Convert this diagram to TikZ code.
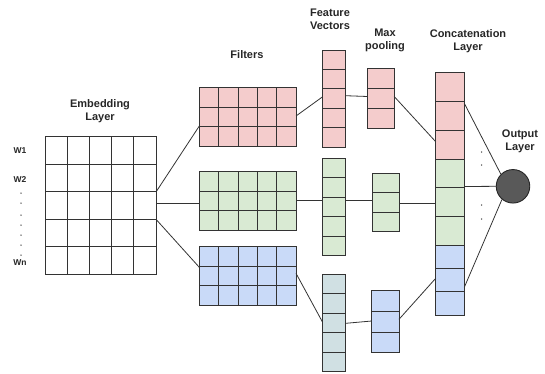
\documentclass[tikz,border=0pt]{standalone}
\usepackage{fontspec}
\setmainfont{Liberation Sans}
\usetikzlibrary{calc}
\definecolor{pinkc}{HTML}{F4CCCC}
\definecolor{greenc}{HTML}{D9EAD3}
\definecolor{bluec}{HTML}{C9DAF8}
\definecolor{tealc}{HTML}{D0E0E3}
\definecolor{linec}{HTML}{333333}
\definecolor{circc}{HTML}{595959}
\tikzset{
  blockbox/.style={draw=linec, line width=0.9pt, inner sep=0pt, outer sep=0pt, rectangle},
  gridline/.style={draw=linec, line width=0.9pt},
  conn/.style={draw=linec, line width=0.8pt},
  title/.style={font=\bfseries\fontsize{11}{13}\selectfont, align=center, inner sep=0pt, text=black!85},
  wlbl/.style={font=\bfseries\fontsize{8.5}{9}\selectfont, inner sep=0pt, text=black!85},
  dotmark/.style={circle, fill=black!75, inner sep=0pt, minimum size=1.5pt},
}
\newcommand\mkblock[8]{%
  \node[blockbox, fill=#8, minimum width={(#4-#2)*1pt}, minimum height={(#5-#3)*1pt}] (#1) at ({(#2+#4)/2},{(#3+#5)/2}) {};
  \foreach \k in {1,...,#6}{\ifnum\k<#6 \pgfmathsetmacro\xx{#2+(#4-#2)*\k/#6}\draw[gridline] (\xx,#3) -- (\xx,#5);\fi}
  \foreach \k in {1,...,#7}{\ifnum\k<#7 \pgfmathsetmacro\yy{#3+(#5-#3)*\k/#7}\draw[gridline] (#2,\yy) -- (#4,\yy);\fi}
}
\begin{document}
\begin{tikzpicture}[x=1pt,y=-1pt]
\useasboundingbox (0,0) rectangle (545,373);
% embedding
\mkblock{emb}{45}{136.7}{156}{274}{5}{5}{white}
% filters
\mkblock{fP}{199.3}{87.3}{296}{146.7}{5}{3}{pinkc}
\mkblock{fG}{199.3}{171.7}{296}{230}{5}{3}{greenc}
\mkblock{fB}{199.3}{246.7}{296}{305}{5}{3}{bluec}
% feature vectors
\mkblock{vP}{322.3}{50}{345.7}{147.3}{1}{5}{pinkc}
\mkblock{vG}{322.3}{158.3}{345.7}{255.7}{1}{5}{greenc}
\mkblock{vB}{322.3}{274}{345.7}{371.7}{1}{5}{tealc}
% max pooling
\mkblock{mP}{367.5}{68.3}{394.2}{128.3}{1}{3}{pinkc}
\mkblock{mG}{372.3}{173.3}{399}{231.7}{1}{3}{greenc}
\mkblock{mB}{371.7}{290.7}{399}{352.7}{1}{3}{bluec}
% concatenation
\mkblock{cP}{435.7}{72.7}{464.3}{159.3}{1}{3}{pinkc}
\mkblock{cG}{435.7}{159.3}{464.3}{245}{1}{3}{greenc}
\mkblock{cB}{435.7}{245}{464.3}{315}{1}{3}{bluec}
% output
\node[circle, draw=black!85, line width=0.9pt, fill=circc, minimum size=33.5pt, inner sep=0pt] (out) at (513,186.3) {};
% titles
\node[title] (tEmb) at (100,111.5) {Embedding\\Layer};
\node[title] (tFil) at (247,55) {Filters};
\node[title] (tFV) at (330,19.5) {Feature\\Vectors};
\node[title] (tMP) at (385,40.5) {Max\\pooling};
\node[title] (tCat) at (468,41.5) {Concatenation\\Layer};
\node[title] (tOut) at (520,141.5) {Output\\Layer};
% word labels
\node[wlbl] (w1) at (20,151) {W1};
\node[wlbl] (w2) at (20,180) {W2};
\node[wlbl] (wn) at (20,263) {Wn};
\foreach \yy [count=\i] in {193,203,215,225,235,245,255}{\node[dotmark] (ed\i) at (21,\yy) {};}
\node[dotmark] (od1) at (481.5,152) {};
\node[dotmark] (od2) at (481.5,165) {};
\node[dotmark] (od3) at (481.5,205) {};
\node[dotmark] (od4) at (481.5,219) {};
% connectors: embedding -> filters
\draw[conn] ([yshift=-55.3pt]emb.north east) -- ([yshift=-38.7pt]fP.north west);
\draw[conn] ([yshift=-66.8pt]emb.north east) -- ([yshift=-31.8pt]fG.north west);
\draw[conn] ([yshift=-82.6pt]emb.north east) -- ([yshift=-20.6pt]fB.north west);
% filters -> feature vectors
\draw[conn] ([yshift=-28.7pt]fP.north east) -- ([yshift=-47pt]vP.north west);
\draw[conn] ([yshift=-28.8pt]fG.north east) -- ([yshift=-42.2pt]vG.north west);
\draw[conn] ([yshift=-26.6pt]fB.north east) -- ([yshift=-47.7pt]vB.north west);
% feature vectors -> max pooling
\draw[conn] ([yshift=-45.7pt]vP.north east) -- ([yshift=-28.2pt]mP.north west);
\draw[conn] ([yshift=-42.4pt]vG.north east) -- ([yshift=-27.4pt]mG.north west);
\draw[conn] ([yshift=-49.3pt]vB.north east) -- ([yshift=-30.3pt]mB.north west);
% max pooling -> concatenation
\draw[conn] ([yshift=-28.2pt]mP.north east) -- ([yshift=-69pt]cP.north west);
\draw[conn] ([yshift=-29.7pt]mG.north east) -- ([yshift=-43.7pt]cG.north west);
\draw[conn] ([yshift=-28.6pt]mB.north east) -- ([yshift=-33.3pt]cB.north west);
% concatenation -> output
\draw[conn] ([yshift=-30.6pt]cP.north east) -- (out.135);
\draw[conn] ([yshift=-27.2pt]cG.north east) -- (out.west);
\draw[conn] ([yshift=-42.3pt]cB.north east) -- (out.230);
\end{tikzpicture}
\end{document}
